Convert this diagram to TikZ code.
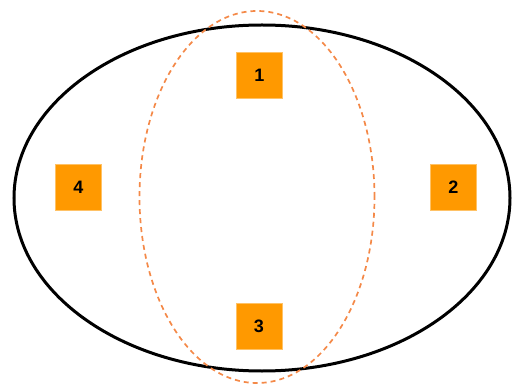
\documentclass[tikz,border=0pt]{standalone}
\usepackage{fontspec}
\setmainfont{Liberation Sans}
\definecolor{boxorange}{RGB}{255,153,0}
\definecolor{dashorange}{RGB}{244,137,72}
\begin{document}
\begin{tikzpicture}[x=1pt,y=1pt,
  numbox/.style={fill=boxorange,draw=boxorange!60!white,line width=0.6pt,minimum width=46pt,minimum height=46pt,inner sep=0pt,font=\fontsize{18}{18}\selectfont\bfseries},
  outerell/.style={draw=black,line width=3pt},
  innerell/.style={draw=dashorange,line width=1.7pt,dash pattern=on 5pt off 4pt}]
\useasboundingbox (0,0) rectangle (514,386);
\draw[outerell] (262,188) ellipse [x radius=248, y radius=173];
\draw[innerell] (257,189) ellipse [x radius=117.5, y radius=186];
\node[numbox] (n1) at (259.5,310.5) {1};
\node[numbox] (n2) at (453.3,199) {2};
\node[numbox] (n3) at (259,59.3) {3};
\node[numbox] (n4) at (78.3,199) {4};
\end{tikzpicture}
\end{document}
